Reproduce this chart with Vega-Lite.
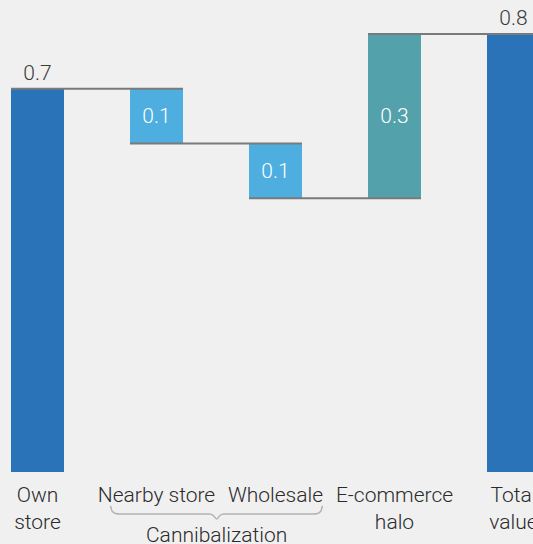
{
  "$schema": "https://vega.github.io/schema/vega-lite/v6.json",
  "width": 533,
  "height": 472,
  "autosize": {"type": "none"},
  "padding": {"left": 0, "right": 0, "top": 0, "bottom": 72},
  "background": "#f0f0f0",
  "config": {"view": {"stroke": null}, "font": "Roboto"},
  "datasets": {
    "bars": [
      {"category": "Own store", "start": 0, "end": 0.7, "kind": "total", "label": "0.7"},
      {"category": "Nearby store", "start": 0.7, "end": 0.6, "kind": "decrease", "label": "0.1"},
      {"category": "Wholesale", "start": 0.6, "end": 0.5, "kind": "decrease", "label": "0.1"},
      {"category": "E-commerce halo", "start": 0.5, "end": 0.8, "kind": "increase", "label": "0.3"},
      {"category": "Total value", "start": 0, "end": 0.8, "kind": "total", "label": "0.8"}
    ],
    "links": [
      {"from": "Own store", "to": "Nearby store", "level": 0.7},
      {"from": "Nearby store", "to": "Wholesale", "level": 0.6},
      {"from": "Wholesale", "to": "E-commerce halo", "level": 0.5},
      {"from": "E-commerce halo", "to": "Total value", "level": 0.8}
    ],
    "brace": [
      {"pos": 0.605, "v": -0.062},
      {"pos": 0.618, "v": -0.0712},
      {"pos": 0.647, "v": -0.0758},
      {"pos": 0.68, "v": -0.0767},
      {"pos": 1.435, "v": -0.0767},
      {"pos": 1.47, "v": -0.0795},
      {"pos": 1.497, "v": -0.0858},
      {"pos": 1.524, "v": -0.0795},
      {"pos": 1.558, "v": -0.0767},
      {"pos": 2.31, "v": -0.0767},
      {"pos": 2.345, "v": -0.0758},
      {"pos": 2.373, "v": -0.0712},
      {"pos": 2.386, "v": -0.062}
    ],
    "group": [
      {"pos": 1.497, "label": "Cannibalization"}
    ]
  },
  "resolve": {"scale": {"x": "independent"}},
  "layer": [
    {
      "data": {"name": "bars"},
      "encoding": {
        "x": {
          "field": "category",
          "type": "nominal",
          "sort": null,
          "scale": {"range": [-1, 552], "paddingInner": 0.5546, "paddingOuter": 0.1008},
          "axis": {
            "title": null,
            "domain": false,
            "ticks": false,
            "grid": false,
            "labelAngle": 0,
            "labelFont": "Roboto",
            "labelFontWeight": 300,
            "labelFontSize": 21,
            "labelColor": "#2b2b2b",
            "labelPadding": 12,
            "labelBaseline": "top",
            "labelLineHeight": 27,
            "labelOverlap": false,
            "labelBound": false,
            "labelLimit": 0,
            "labelExpr": "datum.value == 'Nearby store' || datum.value == 'Wholesale' ? datum.value : split(datum.value, ' ')"
          }
        }
      },
      "layer": [
        {
          "mark": {"type": "bar"},
          "encoding": {
            "y": {"field": "start", "type": "quantitative", "scale": {"domain": [0, 0.8621], "nice": false}, "axis": null},
            "y2": {"field": "end"},
            "color": {
              "field": "kind",
              "type": "nominal",
              "scale": {"domain": ["total", "decrease", "increase"], "range": ["#2b73b9", "#4eaee0", "#53a2ab"]},
              "legend": null
            }
          }
        },
        {
          "transform": [{"filter": "datum.kind == 'total'"}],
          "mark": {"type": "text", "font": "Roboto", "fontWeight": 300, "fontSize": 21, "color": "#3a3a3a", "baseline": "alphabetic", "dy": -9},
          "encoding": {
            "y": {"field": "end", "type": "quantitative", "scale": {"domain": [0, 0.8621], "nice": false}, "axis": null},
            "text": {"field": "label"}
          }
        },
        {
          "transform": [
            {"filter": "datum.kind != 'total'"},
            {"calculate": "(datum.start + datum.end) / 2", "as": "mid"}
          ],
          "mark": {"type": "text", "font": "Roboto", "fontWeight": 300, "fontSize": 21, "color": "#ffffff", "baseline": "middle", "dy": 1},
          "encoding": {
            "y": {"field": "mid", "type": "quantitative", "scale": {"domain": [0, 0.8621], "nice": false}, "axis": null},
            "text": {"field": "label"}
          }
        }
      ]
    },
    {
      "data": {"name": "links"},
      "mark": {"type": "rule", "color": "#7a7a7a", "strokeWidth": 2},
      "encoding": {
        "x": {"field": "from", "type": "nominal", "sort": ["Own store", "Nearby store", "Wholesale", "E-commerce halo", "Total value"], "bandPosition": 0, "axis": null,
              "scale": {"domain": ["Own store", "Nearby store", "Wholesale", "E-commerce halo", "Total value"], "range": [-1, 552], "paddingInner": 0.5546, "paddingOuter": 0.1008}},
        "x2": {"field": "to", "bandPosition": 1},
        "y": {"field": "level", "type": "quantitative", "scale": {"domain": [0, 0.8621], "nice": false}, "axis": null}
      }
    },
    {
      "layer": [
        {
          "data": {"name": "brace"},
          "mark": {"type": "line", "color": "#b3b3b3", "strokeWidth": 1.5, "interpolate": "monotone"},
          "encoding": {
            "x": {"field": "pos", "type": "quantitative", "scale": {"domain": [-0.3235, 4.1555], "nice": false, "zero": false}, "axis": null},
            "y": {"field": "v", "type": "quantitative", "scale": {"domain": [0, 0.8621], "nice": false}, "axis": null}
          }
        },
        {
          "data": {"name": "group"},
          "mark": {"type": "text", "font": "Roboto", "fontWeight": 300, "fontSize": 21, "color": "#2b2b2b", "baseline": "alphabetic"},
          "encoding": {
            "x": {"field": "pos", "type": "quantitative", "scale": {"domain": [-0.3235, 4.1555], "nice": false, "zero": false}, "axis": null},
            "y": {"datum": -0.1279, "type": "quantitative"},
            "text": {"field": "label"}
          }
        }
      ]
    }
  ]
}
